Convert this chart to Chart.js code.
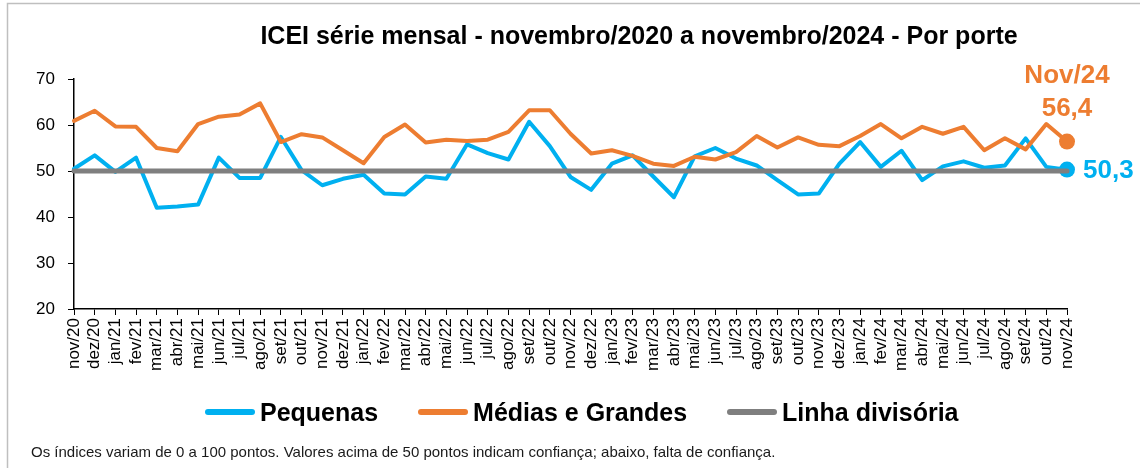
<!DOCTYPE html>
<html>
<head>
<meta charset="utf-8">
<script src="https://cdn.jsdelivr.net/npm/chart.js@4.4.1/dist/chart.umd.min.js"></script>
<style>
  html, body { margin: 0; padding: 0; background: #fff; }
  #wrap { position: relative; width: 1140px; height: 468px; }
  #legenda {
    position: absolute; left: 205px; top: 397px; height: 30px;
    display: flex; align-items: center; gap: 40px;
    font: bold 25px "Liberation Sans", Arial, sans-serif; color: #000;
    white-space: nowrap;
  }
  #legenda .item { display: flex; align-items: center; gap: 5px; }
  #legenda .linha { width: 50px; height: 6px; border-radius: 3px; }
</style>
</head>
<body>
<div id="wrap">
  <canvas id="icei" width="1140" height="468"></canvas>
  <div id="legenda"></div>
</div>
<script>
const meses = [
  'nov/20', 'dez/20',
  'jan/21', 'fev/21', 'mar/21', 'abr/21', 'mai/21', 'jun/21', 'jul/21', 'ago/21', 'set/21', 'out/21', 'nov/21', 'dez/21',
  'jan/22', 'fev/22', 'mar/22', 'abr/22', 'mai/22', 'jun/22', 'jul/22', 'ago/22', 'set/22', 'out/22', 'nov/22', 'dez/22',
  'jan/23', 'fev/23', 'mar/23', 'abr/23', 'mai/23', 'jun/23', 'jul/23', 'ago/23', 'set/23', 'out/23', 'nov/23', 'dez/23',
  'jan/24', 'fev/24', 'mar/24', 'abr/24', 'mai/24', 'jun/24', 'jul/24', 'ago/24', 'set/24', 'out/24', 'nov/24'
];

const pequenas = [
  50.5, 53.4,
  49.8, 52.9, 42.0, 42.3, 42.7, 52.9, 48.5, 48.5, 57.4, 50.2, 46.9, 48.3,
  49.2, 45.1, 44.9, 48.8, 48.3, 55.8, 53.9, 52.5, 60.7, 55.4, 48.7, 45.9,
  51.6, 53.4, 48.8, 44.3, 53.2, 55.0, 52.7, 51.2, 48.0, 44.9, 45.1, 51.6,
  56.3, 50.9, 54.4, 48.0, 51.0, 52.1, 50.7, 51.2, 57.1, 50.9, 50.3
];

const mediasGrandes = [
  60.9, 63.1,
  59.7, 59.6, 55.0, 54.3, 60.2, 61.8, 62.3, 64.7, 56.3, 58.0, 57.3, 54.5,
  51.7, 57.4, 60.1, 56.2, 56.8, 56.5, 56.8, 58.5, 63.2, 63.2, 58.1, 53.8,
  54.5, 53.3, 51.6, 51.1, 53.1, 52.5, 54.1, 57.6, 55.1, 57.3, 55.7, 55.4,
  57.6, 60.2, 57.1, 59.6, 58.1, 59.6, 54.5, 57.1, 54.7, 60.2, 56.4
];

const linhaDivisoria = 50;

const AZUL = '#00B0F0', LARANJA = '#ED7D31', CINZA = '#7F7F7F';
const FONTE = '"Liberation Sans", Arial, sans-serif';
const ultimo = meses.length - 1;

const fmt = v => v.toFixed(1).replace('.', ',');

// moldura, titulo, nota de rodape e rotulos do ultimo ponto
const extras = {
  id: 'extras',
  afterDraw(chart) {
    const ctx = chart.ctx;
    ctx.save();
    ctx.strokeStyle = '#BFBFBF';
    ctx.lineWidth = 1.5;
    ctx.beginPath();
    ctx.moveTo(7.5, 468);
    ctx.lineTo(7.5, 3.5);
    ctx.lineTo(1140, 3.5);
    ctx.stroke();

    ctx.fillStyle = '#000';
    ctx.font = 'bold 25px ' + FONTE;
    ctx.textAlign = 'center';
    ctx.textBaseline = 'middle';
    ctx.fillText('ICEI série mensal - novembro/2020 a novembro/2024 - Por porte', 639, 37);

    ctx.font = '15px ' + FONTE;
    ctx.textAlign = 'left';
    ctx.fillStyle = '#1a1a1a';
    ctx.fillText('Os índices variam de 0 a 100 pontos. Valores acima de 50 pontos indicam confiança; abaixo, falta de confiança.', 31, 453);

    const x = chart.scales.x.getPixelForValue(ultimo);
    const yM = chart.scales.y.getPixelForValue(mediasGrandes[ultimo]);
    const yP = chart.scales.y.getPixelForValue(pequenas[ultimo]);
    ctx.font = 'bold 26px ' + FONTE;
    ctx.fillStyle = LARANJA;
    ctx.textAlign = 'center';
    const rot = meses[ultimo].charAt(0).toUpperCase() + meses[ultimo].slice(1);
    ctx.fillText(rot, x, yM - 66);
    ctx.fillText(fmt(mediasGrandes[ultimo]), x, yM - 33);
    ctx.fillStyle = AZUL;
    ctx.textAlign = 'left';
    ctx.fillText(fmt(pequenas[ultimo]), x + 16, yP + 1);
    ctx.restore();
  }
};

const soUltimo = r => ctx => ctx.dataIndex === ultimo ? r : 0;

const chart = new Chart(document.getElementById('icei'), {
  type: 'line',
  data: {
    labels: meses,
    datasets: [{
      label: 'Pequenas',
      data: pequenas,
      borderColor: AZUL,
      backgroundColor: AZUL,
      borderWidth: 4,
      pointRadius: soUltimo(8),
      pointBorderWidth: 0,
      order: 3
    }, {
      label: 'Médias e Grandes',
      data: mediasGrandes,
      borderColor: LARANJA,
      backgroundColor: LARANJA,
      borderWidth: 4,
      pointRadius: soUltimo(8),
      pointBorderWidth: 0,
      order: 2
    }, {
      label: 'Linha divisória',
      data: [{ x: meses[0], y: linhaDivisoria }, { x: meses[ultimo], y: linhaDivisoria }],
      borderColor: CINZA,
      backgroundColor: CINZA,
      borderWidth: 5,
      pointRadius: 0,
      order: 1
    }]
  },
  options: {
    responsive: false,
    animation: false,
    clip: false,
    layout: { padding: { top: 79, left: 0, right: 73, bottom: 89 } },
    elements: {
      line: { tension: 0, borderJoinStyle: 'round', borderCapStyle: 'round' }
    },
    scales: {
      x: {
        offset: false,
        grid: { drawOnChartArea: false, color: '#000', tickLength: 6 },
        border: { color: '#000', width: 1.5 },
        ticks: {
          autoSkip: false, minRotation: 90, maxRotation: 90, padding: 3,
          color: '#000', font: { family: FONTE, size: 17 }
        },
        afterFit(s) { s.height = 70; }
      },
      y: {
        min: 20, max: 70,
        grid: { drawOnChartArea: false, color: '#000', tickLength: 6 },
        border: { color: '#000', width: 1.5 },
        ticks: { stepSize: 10, padding: 13, color: '#000', font: { family: FONTE, size: 17 } },
        afterFit(s) { s.width = 74; }
      }
    },
    plugins: {
      tooltip: { enabled: false },
      title: { display: false },
      legend: { display: false }
    }
  },
  plugins: [extras]
});

// legenda em HTML, montada a partir das series
const legenda = document.getElementById('legenda');
chart.data.datasets.forEach(d => {
  const item = document.createElement('div');
  item.className = 'item';
  const linha = document.createElement('span');
  linha.className = 'linha';
  linha.style.background = d.borderColor;
  const txt = document.createElement('span');
  txt.textContent = d.label;
  item.appendChild(linha);
  item.appendChild(txt);
  legenda.appendChild(item);
});
</script>
</body>
</html>
